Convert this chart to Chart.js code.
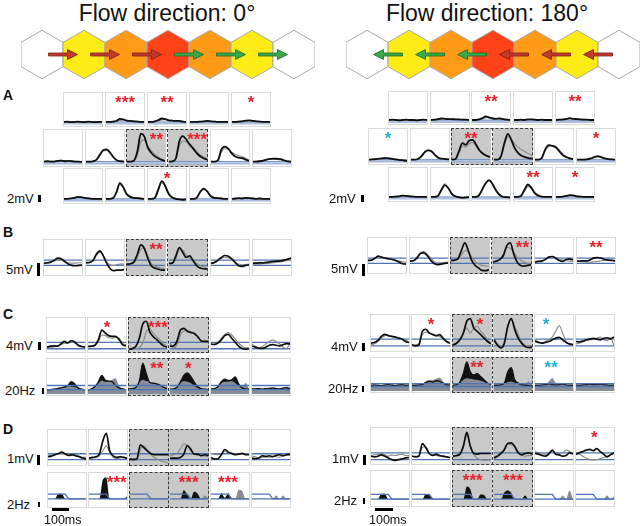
<!DOCTYPE html>
<html>
<head>
<meta charset="utf-8">
<script src="https://cdn.jsdelivr.net/npm/chart.js@4.4.1/dist/chart.umd.min.js"></script>
<style>
body { margin: 0; background: #fff; font-family: "Liberation Sans", Arial, sans-serif; }
#fig { position: relative; width: 640px; height: 526px; overflow: hidden; }
.abs { position: absolute; }
.panel { position: absolute; box-sizing: border-box; border: 1px solid #dadada; background: #fff; }
.panel.shaded { background: #c9c9c9; border-color: #c9c9c9; }
.pair { position: absolute; box-sizing: border-box; border: 1px dashed #3a3a3a; }
.mid { position: absolute; width: 0; border-left: 1px dashed #3a3a3a; }
.lab { position: absolute; line-height: 1; white-space: nowrap; color: #111; }
.bar { position: absolute; background: #000; }
.star { position: absolute; line-height: 1; font-weight: bold; font-size: 17px; transform: translateX(-50%); white-space: nowrap; }
canvas { display: block; }
</style>
</head>
<body>
<div id="fig"></div>
<script>
// time bins (ms), shared by every small panel
const T = [0, 20, 40, 60, 80, 100, 120, 140, 160, 180, 200, 220];

// hexagon strip
const hexCols = [0, 1, 2, 3, 4, 5, 6];
const hexFill = ['#ffffff', '#ffec17', '#ff9b16', '#ff4218', '#ff9b16', '#ffec17', '#ffffff'];
const arrowsAt = [0.5, 1.5, 2.5, 3.5, 4.5, 5.5];
const arrows0 = ['red', 'red', 'red', 'green', 'green', 'green'];
const arrows180 = ['green', 'green', 'green', 'red', 'red', 'red'];

// reference lines (blue)
const aBand = [0.4, 1.0];
const bBand = [2.6, 4.2];
const c1BandL = [0.7, 2.7], c1BandR = [1.2, 3.2];
const c2BandL = [1.3, 2.5], c2BandR = [1.4, 2.3];
const d1BandL = [1.3, 3.1], d1BandR = [1.0, 3.0];
const d2BaseL = 2.2, d2BaseR = 1.8;
const d2StepL = [3.7, 3.7, 3.7, 3.7, 3.7, 3.7, 2.2, 2.2, 2.2, 2.2, 2.2, 2.2];
const d2StepR = [3.2, 3.2, 3.2, 3.2, 3.2, 3.2, 1.8, 1.8, 1.8, 1.8, 1.8, 1.8];

// ---- A, flow 0 deg (rows of 5, 6, 5) ----
const aLBlack = [
  [1.0,1.1,0.9,1.0,1.1,1.0,0.9,1.1,1.0,0.9,1.0,1.0],
  [1.0,1.0,1.1,1.3,2.0,1.8,1.4,1.3,1.2,1.1,1.0,1.0],
  [1.0,1.0,1.2,1.6,2.1,1.9,1.5,1.4,1.3,1.3,1.1,1.0],
  [1.0,1.0,1.0,1.1,1.2,1.3,1.2,1.1,1.0,1.0,1.0,1.0],
  [1.0,1.0,1.1,1.2,1.4,1.5,1.3,1.2,1.1,1.0,1.0,1.0],
  [1.0,1.1,1.0,1.0,1.2,1.3,1.1,1.2,1.1,1.0,1.0,0.9],
  [1.0,1.0,1.1,1.5,3.0,4.4,4.6,3.6,2.2,1.3,1.1,1.0],
  [1.0,1.0,1.3,4.0,9.2,8.4,5.2,3.6,2.6,2.0,1.5,1.2],
  [1.0,1.1,2.0,7.0,8.5,7.5,6.0,4.8,3.5,2.6,2.0,1.6],
  [1.0,1.0,1.4,4.5,5.4,4.8,3.4,2.5,2.2,2.0,1.6,1.2],
  [1.0,1.0,1.1,1.3,1.6,1.8,1.9,1.8,1.7,1.4,1.1,1.0],
  [1.0,1.0,1.1,1.3,1.6,1.5,1.3,1.1,1.0,1.0,1.0,1.0],
  [1.0,1.0,1.2,3.0,5.9,4.6,2.4,1.6,1.3,1.2,1.1,1.0],
  [1.0,1.0,1.3,4.0,6.5,5.0,2.5,1.4,1.0,0.8,0.7,0.8],
  [1.0,1.0,1.4,3.3,4.2,3.3,1.8,1.3,1.2,1.1,1.0,1.0],
  [1.0,1.1,1.2,1.1,1.3,1.2,1.1,1.0,1.1,1.0,1.0,1.0]
];
const aLGrey = [
  [1.0,0.9,1.0,1.1,1.0,1.1,1.0,1.0,1.1,1.0,0.9,1.0],
  [1.0,1.1,1.1,1.2,1.5,1.6,1.5,1.4,1.3,1.2,1.1,1.0],
  [1.0,1.0,1.1,1.3,1.6,1.7,1.6,1.5,1.4,1.4,1.2,1.0],
  [1.0,1.1,1.0,1.1,1.1,1.2,1.2,1.1,1.1,1.0,1.0,1.0],
  [1.0,1.0,1.1,1.2,1.3,1.4,1.3,1.2,1.1,1.1,1.0,1.0],
  [1.0,1.0,1.1,1.1,1.3,1.4,1.3,1.2,1.2,1.1,1.0,1.0],
  [1.0,1.0,1.1,1.5,2.8,4.1,4.3,3.5,2.3,1.4,1.1,1.0],
  [1.0,1.0,1.2,2.8,6.8,7.4,5.6,4.2,3.2,2.4,1.8,1.3],
  [1.0,1.1,1.8,5.5,7.0,6.8,6.2,5.2,4.0,3.0,2.4,2.0],
  [1.0,1.0,1.3,3.8,4.8,4.6,3.8,3.2,2.8,2.5,2.0,1.4],
  [1.0,1.1,1.2,1.4,1.6,1.7,1.7,1.6,1.5,1.3,1.1,1.0],
  [1.0,1.0,1.1,1.2,1.4,1.4,1.3,1.2,1.1,1.0,1.0,1.0],
  [1.0,1.1,1.2,2.7,5.4,4.5,2.6,1.8,1.4,1.3,1.1,1.0],
  [1.0,1.0,1.2,3.5,6.0,4.8,2.8,1.6,1.2,0.9,0.8,0.8],
  [1.0,1.0,1.3,3.0,3.9,3.2,2.0,1.5,1.3,1.2,1.0,1.0],
  [1.0,1.0,1.1,1.2,1.2,1.3,1.2,1.1,1.0,1.0,1.0,1.0]
];
const aLMarks = [null, ['***','r',.5], ['**','r',.5], null, ['*','r',.5],
  null, null, ['**','r',.76], ['***','r',.73], null, null,
  null, null, ['*','r',.5], null, null];

// ---- A, flow 180 deg ----
const aRBlack = [
  [1.0,1.1,1.0,0.9,1.0,1.1,1.0,1.0,0.9,1.0,1.1,1.0],
  [1.0,1.1,1.3,1.5,1.4,1.3,1.3,1.2,1.2,1.1,1.1,1.0],
  [1.0,1.0,1.2,1.6,2.2,1.8,1.5,1.4,1.5,1.3,1.1,1.0],
  [1.0,1.0,1.1,1.0,1.2,1.2,1.1,1.0,1.1,1.0,1.0,1.0],
  [1.0,1.1,1.2,1.4,1.6,1.4,1.3,1.2,1.1,1.1,1.0,1.0],
  [1.0,1.1,1.2,1.3,1.4,1.5,1.3,1.2,1.0,0.9,0.8,0.6],
  [1.0,1.0,1.2,2.0,3.3,3.8,3.5,2.4,1.5,1.3,1.2,1.1],
  [1.0,1.2,3.5,6.0,5.5,6.8,7.0,5.5,3.8,2.8,2.2,1.8],
  [1.0,1.0,2.0,6.0,8.8,7.0,4.5,3.0,2.2,1.8,1.5,1.3],
  [1.0,1.0,1.6,4.2,5.4,5.2,4.8,3.6,2.4,1.8,1.4,1.2],
  [1.0,1.0,1.0,1.1,1.4,1.8,2.1,1.8,1.4,1.2,1.1,1.0],
  [1.0,1.0,1.1,1.2,1.4,1.3,1.2,1.1,1.0,1.0,1.0,1.0],
  [1.0,1.0,1.3,3.2,4.8,3.8,2.0,1.2,0.9,0.7,0.8,0.9],
  [1.0,1.0,1.5,3.5,5.5,6.4,5.0,3.0,1.6,1.0,0.9,0.8],
  [1.0,1.0,1.3,3.2,5.0,4.0,2.2,1.4,1.1,1.0,1.0,1.0],
  [1.0,1.0,1.1,1.3,1.6,1.5,1.2,1.1,1.0,1.0,1.0,1.0]
];
const aRGrey = [
  [1.0,1.0,1.1,1.0,1.1,1.0,1.0,1.1,1.0,1.0,1.0,1.0],
  [1.0,1.0,1.2,1.4,1.5,1.4,1.3,1.3,1.2,1.1,1.0,1.0],
  [1.0,1.0,1.1,1.4,1.8,1.9,1.6,1.5,1.6,1.4,1.2,1.0],
  [1.0,1.1,1.0,1.1,1.1,1.2,1.2,1.1,1.0,1.0,1.0,1.0],
  [1.0,1.0,1.1,1.3,1.4,1.5,1.4,1.3,1.2,1.1,1.0,1.0],
  [1.0,1.1,1.2,1.3,1.5,1.6,1.5,1.4,1.2,1.0,1.0,0.9],
  [1.0,1.0,1.2,2.2,3.5,3.9,3.4,2.3,1.5,1.3,1.2,1.1],
  [1.0,1.1,3.0,5.2,4.8,5.8,6.2,5.0,3.8,3.0,2.4,2.0],
  [1.0,1.0,1.8,5.5,8.0,7.2,5.8,4.8,4.0,3.4,2.8,2.2],
  [1.0,1.0,1.5,3.8,5.0,5.3,5.0,4.0,2.8,2.0,1.6,1.3],
  [1.0,1.0,1.1,1.2,1.4,1.6,1.8,1.7,1.4,1.2,1.1,1.0],
  [1.0,1.0,1.1,1.2,1.3,1.4,1.3,1.1,1.0,1.0,1.0,1.0],
  [1.0,1.0,1.3,3.5,5.2,4.0,2.2,1.3,1.0,0.8,0.8,0.9],
  [1.0,1.0,1.4,3.2,5.2,6.2,5.2,3.2,1.8,1.1,0.9,0.8],
  [1.0,1.0,1.4,2.8,4.3,3.8,2.5,1.6,1.2,1.1,1.0,1.0],
  [1.0,1.0,1.1,1.2,1.4,1.4,1.2,1.1,1.0,1.0,1.0,1.0]
];
const aRMarks = [null, null, ['**','r',.5], null, ['**','r',.5],
  ['*','c',.5], null, ['**','r',.5], null, null, ['*','r',.5],
  null, null, null, ['**','r',.5], ['*','r',.5]];

// ---- B ----
const bLBlack = [
  [3.2,3.4,3.6,4.2,4.8,4.6,3.8,3.0,2.6,2.5,2.6,2.7],
  [3.4,3.5,4.0,6.0,7.0,5.5,3.2,1.6,1.0,1.2,1.2,1.3],
  [3.0,3.1,3.6,6.0,8.8,7.8,4.8,2.5,1.8,1.5,1.2,1.2],
  [3.2,3.3,5.5,8.0,6.5,5.0,5.5,4.0,2.5,1.8,1.6,1.5],
  [3.2,3.5,4.2,5.0,5.6,5.4,4.6,3.5,2.5,2.3,2.6,2.8],
  [3.3,3.3,3.4,3.4,3.5,3.7,3.8,3.9,4.0,4.2,4.5,4.8]
];
const bLGrey = [
  [3.4,3.3,3.6,4.0,4.4,4.3,3.8,3.4,3.3,3.3,3.4,3.4],
  [3.4,3.5,4.0,5.6,6.6,5.6,3.8,2.8,2.6,2.9,3.0,3.0],
  [3.1,3.1,3.4,5.0,7.5,7.8,5.5,3.2,2.4,2.0,1.8,1.6],
  [3.2,3.3,4.5,7.5,7.2,5.8,4.8,4.0,3.2,2.6,2.2,2.0],
  [3.3,3.4,4.0,4.8,5.0,4.9,4.3,3.6,3.0,2.8,2.9,3.0],
  [2.9,3.0,3.0,3.1,3.2,3.3,3.4,3.6,3.7,3.9,4.1,4.4]
];
const bLMarks = [null, null, ['**','r',.75], null, null, null];
const bRBlack = [
  [3.5,3.6,4.2,4.8,4.5,4.2,4.0,3.8,3.5,3.0,2.5,2.4],
  [3.3,3.4,4.2,5.6,5.8,5.0,3.5,2.6,2.2,2.4,2.6,2.7],
  [3.5,3.6,4.0,6.5,8.8,6.5,3.5,2.0,1.2,0.5,0.4,0.7],
  [3.0,3.3,3.8,5.0,8.0,8.8,5.5,3.0,2.0,1.8,2.0,2.2],
  [3.0,3.2,3.3,3.8,4.5,4.7,4.2,3.5,3.2,3.8,4.0,3.6],
  [3.3,3.3,3.4,3.4,3.8,4.3,4.4,4.2,3.8,3.6,3.5,3.4]
];
const bRGrey = [
  [3.4,3.6,4.0,4.6,4.4,4.3,4.1,3.9,3.6,3.3,3.1,3.0],
  [3.3,3.5,4.5,5.8,6.2,5.4,4.2,3.2,2.8,2.8,2.9,3.0],
  [3.4,3.5,3.8,5.0,6.5,6.0,4.5,3.2,2.4,2.0,1.8,1.8],
  [3.0,3.3,3.8,5.5,7.5,7.2,6.0,4.5,3.6,3.0,2.6,2.5],
  [3.2,3.3,3.5,4.0,4.5,4.6,4.4,4.0,3.6,3.4,3.3,3.2],
  [3.2,3.2,3.1,3.0,3.0,3.1,3.2,3.4,3.5,3.6,3.6,3.5]
];
const bRMarks = [null, null, null, ['**','r',.76], null, ['**','r',.5]];

// ---- C, membrane potential (4mV) ----
const c1LBlack = [
  [1.2,1.5,1.6,1.5,2.2,3.0,2.5,3.2,2.8,1.8,1.4,1.2],
  [1.4,1.5,1.8,3.5,6.5,5.6,4.8,4.6,4.6,3.6,2.0,1.6],
  [0.5,0.8,1.5,4.0,8.5,9.3,6.0,4.5,3.6,2.5,1.6,1.2],
  [1.5,1.6,3.0,6.5,7.1,6.2,5.8,5.5,4.5,3.2,3.0,3.0],
  [2.2,2.0,2.5,3.5,4.8,5.2,4.0,2.8,1.5,0.8,0.6,0.7],
  [1.5,1.2,0.9,0.8,1.2,1.8,2.0,1.8,1.6,2.0,2.3,2.2]
];
const c1LGrey = [
  [1.4,1.2,1.3,1.6,2.0,2.4,2.6,2.8,2.6,2.0,1.5,1.3],
  [1.5,1.5,1.8,3.0,5.0,4.8,4.2,4.0,4.3,4.0,2.4,2.0],
  [0.5,0.6,0.7,1.0,2.5,6.0,7.0,5.5,4.5,3.5,2.2,1.5],
  [2.5,1.0,1.8,5.0,6.2,6.5,6.0,5.5,4.5,3.2,2.8,2.8],
  [2.0,2.2,2.8,4.0,5.2,5.8,5.0,3.8,2.5,1.5,1.0,1.0],
  [2.0,1.5,1.0,1.4,2.2,3.0,3.4,3.0,2.2,1.2,0.8,2.4]
];
const c1LMarks = [null, ['*','r',.5], ['***','r',.75], null, null, null];
const c1RBlack = [
  [2.0,2.2,2.8,4.0,4.6,4.2,4.0,3.8,3.5,3.2,2.5,2.2],
  [1.5,1.2,1.5,5.5,6.1,5.0,4.6,4.2,4.5,3.5,2.5,2.0],
  [1.5,2.0,3.0,5.0,8.5,9.2,6.5,5.5,4.5,3.5,2.5,1.8],
  [3.0,1.5,0.6,2.0,7.0,9.2,6.0,3.5,2.0,1.0,0.7,0.8],
  [2.6,2.2,2.0,2.2,2.5,3.0,3.5,3.7,3.0,2.2,1.8,1.6],
  [2.5,2.4,2.6,3.0,3.2,3.4,3.2,3.0,3.4,3.6,3.3,3.8]
];
const c1RGrey = [
  [1.5,1.8,2.5,3.5,4.2,4.4,4.0,3.8,3.6,3.2,2.8,2.5],
  [1.6,1.5,2.0,4.5,5.2,5.0,4.5,4.2,4.0,3.2,2.6,2.2],
  [1.5,1.8,3.0,5.0,6.5,5.0,6.5,7.0,5.5,4.5,3.0,2.0],
  [2.5,1.5,1.0,2.5,7.0,8.8,7.0,4.5,2.5,1.5,1.0,1.2],
  [2.8,2.5,2.2,2.5,3.0,3.8,5.5,7.2,5.0,2.5,1.6,1.2],
  [1.8,2.0,2.4,2.8,3.0,3.2,3.5,3.8,3.0,2.8,3.6,1.2]
];
const c1RMarks = [null, ['*','r',.5], ['*','r',.7], null, ['*','c',.3], null];

// ---- C, firing rate (20Hz) ----
const c2LBlack = [
  [1.2,1.3,1.4,1.6,1.8,2.0,2.4,3.6,3.0,1.8,1.4,1.2],
  [1.2,1.5,2.2,3.5,5.5,4.0,3.8,3.6,2.4,1.8,1.5,1.3],
  [1.5,1.6,2.0,3.8,9.1,6.0,3.4,3.2,3.0,2.6,2.0,1.6],
  [1.4,1.5,2.0,3.5,5.5,6.2,5.2,3.5,2.2,1.6,1.4,1.3],
  [1.5,1.6,2.2,3.6,4.4,4.0,4.2,5.0,3.0,1.8,1.5,1.4],
  [1.5,1.5,1.6,1.4,1.6,1.5,1.8,1.6,1.5,1.7,1.9,1.6]
];
const c2LGrey = [
  [1.3,1.3,1.6,1.8,2.0,2.2,2.4,2.2,2.0,1.8,1.6,1.5],
  [1.3,1.5,2.0,3.2,4.0,3.6,3.8,4.2,4.6,2.4,1.6,1.4],
  [1.5,1.5,2.0,3.5,4.2,3.8,3.6,3.2,2.8,2.4,2.0,1.8],
  [1.3,1.4,2.0,3.2,3.8,3.6,3.2,2.4,1.8,1.5,1.3,1.2],
  [1.4,1.5,2.0,3.2,3.6,3.6,3.8,3.2,2.4,2.2,3.2,1.5],
  [1.3,1.4,1.5,1.6,1.7,2.0,1.8,1.6,1.7,1.8,1.7,1.5]
];
const c2LMarks = [null, null, ['**','r',.72], ['*','r',.48], null, null];
const c2RBlack = [
  [1.8,1.9,1.8,1.7,1.9,2.0,1.8,1.7,1.9,2.0,1.8,1.9],
  [1.8,1.8,1.9,2.0,2.6,3.0,2.8,3.2,3.0,2.4,2.0,1.9],
  [1.8,2.0,2.8,5.5,9.1,6.0,5.0,5.5,4.5,3.5,2.5,2.0],
  [1.8,1.8,2.0,2.5,6.0,7.3,3.5,2.5,2.0,1.8,1.7,1.6],
  [1.8,1.8,1.9,2.0,2.2,2.0,1.9,2.0,2.2,1.9,1.8,1.8],
  [1.9,1.8,1.9,2.0,2.2,2.0,2.1,2.3,2.0,1.9,1.8,1.9]
];
const c2RGrey = [
  [1.9,1.8,1.9,1.9,1.8,1.9,2.0,1.9,1.8,1.9,1.9,1.8],
  [1.8,1.9,2.0,2.2,3.0,3.5,3.4,3.8,4.2,3.0,2.2,2.0],
  [1.8,1.9,2.5,3.5,4.0,3.8,3.6,3.5,3.2,2.8,2.4,2.0],
  [1.8,1.8,1.9,2.2,2.8,3.0,2.6,2.2,2.0,2.2,3.0,2.4],
  [1.8,1.9,2.0,2.2,3.0,4.1,2.6,2.0,2.0,1.9,1.9,1.8],
  [1.8,1.9,2.0,1.9,2.0,2.2,2.0,1.9,2.1,2.0,1.9,1.8]
];
const c2RMarks = [null, null, ['**','r',.62], null, ['**','c',.43], null];

// ---- D, membrane potential (1mV) ----
const d1LBlack = [
  [2.2,2.4,2.8,3.2,3.6,3.0,2.6,2.8,2.5,2.2,1.8,1.5],
  [1.8,2.0,2.2,3.0,7.0,9.3,4.0,2.5,2.0,2.2,2.0,1.8],
  [1.5,1.4,1.6,5.8,5.0,4.0,3.2,2.8,2.8,2.8,2.8,2.8],
  [1.8,1.8,1.8,2.0,3.0,5.6,4.5,3.0,3.0,2.5,2.8,2.6],
  [2.0,1.5,1.6,2.8,4.4,3.6,3.2,2.8,3.0,3.2,2.8,2.8],
  [1.8,1.6,1.8,2.5,2.3,2.5,2.2,2.6,2.8,2.5,2.8,3.0]
];
const d1LGrey = [
  [2.5,2.6,2.8,3.0,3.3,3.2,2.8,2.6,2.8,2.4,2.0,2.0],
  [1.5,1.8,2.0,2.5,4.0,5.5,3.5,2.0,1.6,1.8,2.0,1.6],
  [1.2,1.0,1.2,4.5,5.5,4.2,2.8,2.0,1.4,0.9,0.6,0.4],
  [2.4,2.8,3.2,4.5,6.1,5.5,4.0,3.0,2.6,2.8,2.4,2.2],
  [3.2,3.0,2.8,3.0,3.8,3.5,3.3,3.2,3.0,3.2,3.0,3.0],
  [2.4,2.2,1.8,2.0,2.2,2.0,2.4,2.2,2.0,2.6,2.8,2.6]
];
const d1RBlack = [
  [2.0,1.8,2.0,2.4,2.0,1.5,1.0,0.8,1.0,1.2,1.5,1.6],
  [2.0,1.8,2.0,5.7,4.5,2.8,2.2,2.6,2.2,2.0,1.8,1.6],
  [2.0,2.2,2.6,5.0,9.0,5.0,2.8,2.6,2.8,2.8,2.8,2.8],
  [1.5,2.0,2.8,4.0,5.8,5.9,4.8,3.0,2.4,2.8,3.0,2.6],
  [2.8,2.6,2.2,2.0,2.6,3.8,2.6,2.4,2.0,2.2,3.0,2.6],
  [2.5,3.0,3.4,3.8,4.0,3.6,4.2,3.4,2.6,1.8,2.4,3.0]
];
const d1RGrey = [
  [2.2,2.4,2.6,2.8,2.4,2.0,2.4,2.2,2.4,2.6,2.2,2.2],
  [2.0,2.0,2.3,4.5,4.8,3.0,2.4,2.2,2.0,1.8,1.8,1.6],
  [1.8,2.0,2.4,4.5,8.2,5.0,2.5,1.4,1.0,0.8,0.8,0.9],
  [1.8,2.2,2.6,3.8,5.5,5.4,5.0,3.5,2.5,2.0,2.2,2.2],
  [3.4,3.0,2.6,2.6,3.0,3.6,3.0,2.8,3.0,3.8,3.4,2.8],
  [3.0,2.6,2.0,1.4,1.0,0.9,1.0,1.3,1.6,2.0,2.4,2.8]
];
const d1RMarks = [null, null, null, null, null, ['*','r',.48]];

// ---- D, firing rate (2Hz) ----
const d2LBlack = [
  [2.2,2.2,2.2,3.8,3.8,2.2,2.2,2.2,2.2,2.2,2.2,2.2],
  [2.2,2.2,2.2,2.2,8.2,8.9,2.2,2.2,2.2,2.2,2.2,3.0],
  [2.2,2.2,2.2,2.2,2.2,2.2,2.2,2.2,2.2,2.2,2.2,2.2],
  [2.2,2.2,2.2,2.2,4.9,3.6,2.2,4.5,3.8,2.2,2.2,2.2],
  [2.2,2.2,2.2,4.0,2.6,4.0,2.2,2.2,2.2,2.2,2.2,2.2],
  [2.2,2.2,2.2,2.2,2.2,2.2,2.2,2.2,2.2,2.2,2.2,2.2]
];
const d2LGrey = [
  [2.2,2.2,2.2,2.2,2.2,2.2,2.2,2.2,2.2,2.2,2.2,2.2],
  [2.2,2.2,2.2,2.2,2.2,2.2,2.2,2.2,2.2,2.2,2.2,2.2],
  [2.2,2.2,2.2,2.2,2.2,2.2,2.2,2.2,2.2,2.2,2.2,2.2],
  [2.2,2.2,2.2,2.2,2.2,2.2,2.2,2.2,2.2,2.2,3.3,2.6],
  [2.2,2.2,2.2,2.2,2.2,2.2,2.2,2.2,5.1,4.8,2.2,2.2],
  [2.2,2.2,2.2,2.2,2.2,2.2,2.2,3.3,2.2,3.3,2.2,2.2]
];
const d2LMarks = [null, ['***','r',.72], null, ['***','r',.49], ['***','r',.45], null];
const d2RBlack = [
  [1.8,1.8,1.8,3.4,3.4,1.8,1.8,1.8,1.8,1.8,1.8,1.8],
  [1.8,1.8,1.8,1.8,3.3,3.0,1.8,1.8,1.8,1.8,1.8,1.8],
  [1.8,1.8,1.8,1.8,5.6,4.8,1.8,1.8,3.2,3.0,1.8,1.8],
  [1.8,1.8,1.8,3.8,4.4,3.6,1.8,1.8,1.8,2.9,1.8,1.8],
  [1.8,1.8,1.8,1.8,1.8,1.8,1.8,1.8,1.8,1.8,1.8,1.8],
  [1.8,1.8,1.8,1.8,1.8,1.8,1.8,1.8,1.8,1.8,1.8,1.8]
];
const d2RGrey = [
  [1.8,1.8,1.8,1.8,1.8,1.8,1.8,1.8,1.8,1.8,1.8,1.8],
  [1.8,1.8,1.8,1.8,1.8,1.8,1.8,1.8,1.8,1.8,1.8,1.8],
  [1.8,1.8,1.8,1.8,1.8,1.8,1.8,1.8,1.8,1.8,1.8,1.8],
  [1.8,1.8,1.8,1.8,1.8,1.8,1.8,1.8,1.8,1.8,1.8,1.8],
  [1.8,1.8,1.8,1.8,1.8,1.8,1.8,1.8,2.9,1.8,4.4,1.8],
  [1.8,1.8,1.8,1.8,1.8,1.8,1.8,1.8,1.8,2.9,1.8,2.6]
];
const d2RMarks = [null, null, ['***','r',.52], ['***','r',.5], null, null];

// ------------------------------------------------------------
const fig = document.getElementById('fig');
const BLUE = '#4f74b2';
const W = 40;

function flat(v) { return T.map(() => v); }

function line(data, color, width, extra) {
  return Object.assign({ data, borderColor: color, borderWidth: width, pointRadius: 0,
    fill: false, cubicInterpolationMode: 'monotone' }, extra || {});
}

function panel(x, y, h, kind, black, grey, band, step, shaded) {
  const div = document.createElement('div');
  div.className = 'panel' + (shaded ? ' shaded' : '');
  Object.assign(div.style, { left: x + 'px', top: y + 'px', width: W + 'px', height: h + 'px' });
  const cv = document.createElement('canvas');
  cv.width = W - 2; cv.height = h - 2;
  div.appendChild(cv);
  fig.appendChild(div);

  const none = 'rgba(0,0,0,0)';
  let ds;
  if (kind === 'vm') {
    ds = [line(black, '#0d0d0d', 1.8), line(grey, '#8a8a8a', 1.1),
      line(flat(band[1]), BLUE, 0.8, { fill: '+1', backgroundColor: '#c3d2ea' }),
      line(flat(band[0]), BLUE, 1.2)];
  } else if (kind === 'vm2') {
    ds = [line(black, '#0d0d0d', 1.7), line(grey, '#8a8a8a', 1.1),
      line(flat(band[1]), BLUE, 1.3), line(flat(band[0]), BLUE, 1.3)];
  } else if (kind === 'rate') {
    ds = [line(flat(band[1]), BLUE, 1.3), line(flat(band[0]), BLUE, 1.3),
      line(black, '#111', 1.3),
      line(grey, none, 0, { fill: 'start', backgroundColor: '#878c99' }),
      line(black, none, 0, { fill: 'start', backgroundColor: '#111' })];
  } else {
    ds = [line(step, BLUE, 1.3, { cubicInterpolationMode: 'default', tension: 0 }),
      line(flat(band), BLUE, 1.3),
      line(grey, none, 0, { fill: { value: band }, backgroundColor: '#8c8c8c' }),
      line(black, none, 0, { fill: { value: band }, backgroundColor: '#111' })];
  }

  new Chart(cv, {
    type: 'line',
    data: { labels: T, datasets: ds },
    options: {
      responsive: false, animation: false, events: [],
      layout: { padding: { top: 1, bottom: 1, left: 0, right: 0 } },
      plugins: { legend: { display: false }, tooltip: { enabled: false } },
      scales: { x: { display: false }, y: { display: false, min: 0, max: 10 } }
    }
  });
}

function star(x, y, mark) {
  const s = document.createElement('div');
  s.className = 'star';
  s.textContent = mark[0];
  s.style.color = mark[1] === 'c' ? '#22b2d0' : '#e5232b';
  s.style.left = (x + W * mark[2]) + 'px';
  s.style.top = (y + 2) + 'px';
  fig.appendChild(s);
}

function row(r) {
  const xs = [];
  for (let i = 0; i < r.n; i++) {
    const k = r.from + i;
    const x = Math.round(r.x0 + i * r.pitch);
    xs.push(x);
    panel(x, r.y, r.h, r.kind, r.black[k], r.grey[k], r.band, r.step, r.shade && (i === 2 || i === 3));
  }
  if (r.shade) {
    const box = document.createElement('div');
    box.className = 'pair';
    Object.assign(box.style, { left: xs[2] + 'px', top: r.y + 'px', width: (xs[3] + W - xs[2]) + 'px', height: r.h + 'px' });
    fig.appendChild(box);
    const mid = document.createElement('div');
    mid.className = 'mid';
    Object.assign(mid.style, { left: (xs[3] - 1) + 'px', top: r.y + 'px', height: r.h + 'px' });
    fig.appendChild(mid);
  }
  for (let i = 0; i < r.n; i++) {
    const m = r.marks && r.marks[r.from + i];
    if (m) star(xs[i], r.y, m);
  }
}

function label(text, x, capTop, size, bold, center) {
  const d = document.createElement('div');
  d.className = 'lab';
  d.textContent = text;
  d.style.fontSize = size + 'px';
  if (bold) d.style.fontWeight = 'bold';
  d.style.left = x + 'px';
  d.style.top = (capTop - 0.13 * size) + 'px';
  if (center) d.style.transform = 'translateX(-50%)';
  fig.appendChild(d);
}

function bar(x, y, w, h) {
  const d = document.createElement('div');
  d.className = 'bar';
  Object.assign(d.style, { left: x + 'px', top: y + 'px', width: w + 'px', height: h + 'px' });
  fig.appendChild(d);
}

// hexagon strips with flow arrows
const arrowStyle = {
  red: { fill: '#c23a2c', stroke: '#7a1e17' },
  green: { fill: '#3aa84a', stroke: '#1f6b2a' }
};
function hexStrip(left, arrowColors, dir) {
  const cv = document.createElement('canvas');
  cv.width = 294; cv.height = 53;
  cv.className = 'abs';
  cv.style.left = left + 'px'; cv.style.top = '28px';
  fig.appendChild(cv);
  new Chart(cv, {
    type: 'scatter',
    data: { datasets: [
      { data: hexCols.map(c => ({ x: c, y: 0 })), pointRadius: 0 },
      { data: arrowsAt.map(a => ({ x: a, y: 0 })), pointRadius: 0 }
    ] },
    options: {
      responsive: false, animation: false, events: [],
      layout: { padding: 0 },
      plugins: { legend: { display: false }, tooltip: { enabled: false } },
      scales: { x: { display: false, min: -0.5, max: 6.5 }, y: { display: false, min: -1, max: 1 } }
    },
    plugins: [{
      id: 'hexes',
      afterDatasetsDraw(chart) {
        const { ctx, scales: { x, y } } = chart;
        const unit = x.getPixelForValue(1) - x.getPixelForValue(0);
        const r = unit / Math.sqrt(3);
        chart.data.datasets[0].data.forEach((p, i) => {
          const cx = x.getPixelForValue(p.x), cy = y.getPixelForValue(p.y);
          ctx.beginPath();
          for (let k = 0; k < 6; k++) {
            const a = Math.PI / 180 * (60 * k - 90);
            const px = cx + r * Math.cos(a), py = cy + r * Math.sin(a);
            if (k === 0) ctx.moveTo(px, py); else ctx.lineTo(px, py);
          }
          ctx.closePath();
          ctx.fillStyle = hexFill[i];
          ctx.fill();
          ctx.strokeStyle = '#a8a8a8';
          ctx.lineWidth = 1;
          ctx.stroke();
        });
        const L = unit * 0.69, head = 10;
        chart.data.datasets[1].data.forEach((p, i) => {
          const cx = x.getPixelForValue(p.x), cy = y.getPixelForValue(p.y);
          const x0 = cx - dir * L / 2, xt = cx + dir * L / 2, xh = xt - dir * head;
          ctx.beginPath();
          ctx.moveTo(x0, cy - 1.5); ctx.lineTo(xh, cy - 1.5); ctx.lineTo(xh, cy - 5);
          ctx.lineTo(xt, cy); ctx.lineTo(xh, cy + 5); ctx.lineTo(xh, cy + 1.5);
          ctx.lineTo(x0, cy + 1.5); ctx.closePath();
          const st = arrowStyle[arrowColors[i]];
          ctx.fillStyle = st.fill; ctx.fill();
          ctx.strokeStyle = st.stroke; ctx.lineWidth = 0.8; ctx.stroke();
        });
      }
    }]
  });
}

label('Flow direction: 0°', 167, 5, 23, false, true);
label('Flow direction: 180°', 487, 5, 23, false, true);
hexStrip(21, arrows0, 1);
hexStrip(346, arrows180, -1);

// panel A
row({ x0: 63, pitch: 42, y: 92, h: 35, n: 5, from: 0, kind: 'vm', black: aLBlack, grey: aLGrey, band: aBand, marks: aLMarks });
row({ x0: 43, pitch: 41.7, y: 129, h: 38, n: 6, from: 5, kind: 'vm', black: aLBlack, grey: aLGrey, band: aBand, marks: aLMarks, shade: true });
row({ x0: 63, pitch: 42, y: 168, h: 36, n: 5, from: 11, kind: 'vm', black: aLBlack, grey: aLGrey, band: aBand, marks: aLMarks });
row({ x0: 388, pitch: 41.7, y: 91, h: 34, n: 5, from: 0, kind: 'vm', black: aRBlack, grey: aRGrey, band: aBand, marks: aRMarks });
row({ x0: 368, pitch: 41.6, y: 128, h: 37, n: 6, from: 5, kind: 'vm', black: aRBlack, grey: aRGrey, band: aBand, marks: aRMarks, shade: true });
row({ x0: 388, pitch: 41.7, y: 167, h: 35, n: 5, from: 11, kind: 'vm', black: aRBlack, grey: aRGrey, band: aBand, marks: aRMarks });

// panel B
row({ x0: 43, pitch: 41.7, y: 239, h: 37, n: 6, from: 0, kind: 'vm2', black: bLBlack, grey: bLGrey, band: bBand, marks: bLMarks, shade: true });
row({ x0: 367, pitch: 41.7, y: 237, h: 37, n: 6, from: 0, kind: 'vm2', black: bRBlack, grey: bRGrey, band: bBand, marks: bRMarks, shade: true });

// panel C
row({ x0: 46, pitch: 41, y: 317, h: 36, n: 6, from: 0, kind: 'vm2', black: c1LBlack, grey: c1LGrey, band: c1BandL, marks: c1LMarks, shade: true });
row({ x0: 46, pitch: 41, y: 358, h: 38, n: 6, from: 0, kind: 'rate', black: c2LBlack, grey: c2LGrey, band: c2BandL, marks: c2LMarks, shade: true });
row({ x0: 370, pitch: 41, y: 314, h: 38, n: 6, from: 0, kind: 'vm2', black: c1RBlack, grey: c1RGrey, band: c1BandR, marks: c1RMarks, shade: true });
row({ x0: 370, pitch: 41, y: 357, h: 36, n: 6, from: 0, kind: 'rate', black: c2RBlack, grey: c2RGrey, band: c2BandR, marks: c2RMarks, shade: true });

// panel D
row({ x0: 47, pitch: 40.8, y: 429, h: 37, n: 6, from: 0, kind: 'vm2', black: d1LBlack, grey: d1LGrey, band: d1BandL, shade: true });
row({ x0: 47, pitch: 40.8, y: 472, h: 36, n: 6, from: 0, kind: 'psth', black: d2LBlack, grey: d2LGrey, band: d2BaseL, step: d2StepL, marks: d2LMarks, shade: true });
row({ x0: 370, pitch: 41, y: 427, h: 38, n: 6, from: 0, kind: 'vm2', black: d1RBlack, grey: d1RGrey, band: d1BandR, marks: d1RMarks, shade: true });
row({ x0: 370, pitch: 41, y: 470, h: 37, n: 6, from: 0, kind: 'psth', black: d2RBlack, grey: d2RGrey, band: d2BaseR, step: d2StepR, marks: d2RMarks, shade: true });

// section letters
label('A', 3, 90, 14, true);
label('B', 3, 227, 14, true);
label('C', 3, 309, 14, true);
label('D', 3, 424, 14, true);

// scale labels and bars
const FS = 13;
label('2mV', 7, 194, FS); bar(38, 195, 3, 7);
label('5mV', 6, 265, FS); bar(37, 263, 3, 13);
label('4mV', 6, 341, FS); bar(38, 342, 3, 8);
label('20Hz', 5, 386, FS); bar(42, 388, 2, 6);
label('1mV', 7, 454, FS); bar(37, 455, 3, 10);
label('2Hz', 7, 500, FS); bar(38, 502, 2, 5);
label('2mV', 329, 194, FS); bar(361, 195, 3, 7);
label('5mV', 331, 264, FS); bar(362, 264, 3, 12);
label('4mV', 331, 342, FS); bar(362, 343, 3, 8);
label('20Hz', 328, 384, FS); bar(362, 386, 2, 6);
label('1mV', 332, 454, FS); bar(363, 455, 3, 10);
label('2Hz', 334, 496, FS); bar(363, 498, 2, 6);

bar(52, 508, 17, 3); label('100ms', 44, 516, 12.5);
bar(375, 508, 18, 3); label('100ms', 369, 516, 12.5);
</script>
</body>
</html>
